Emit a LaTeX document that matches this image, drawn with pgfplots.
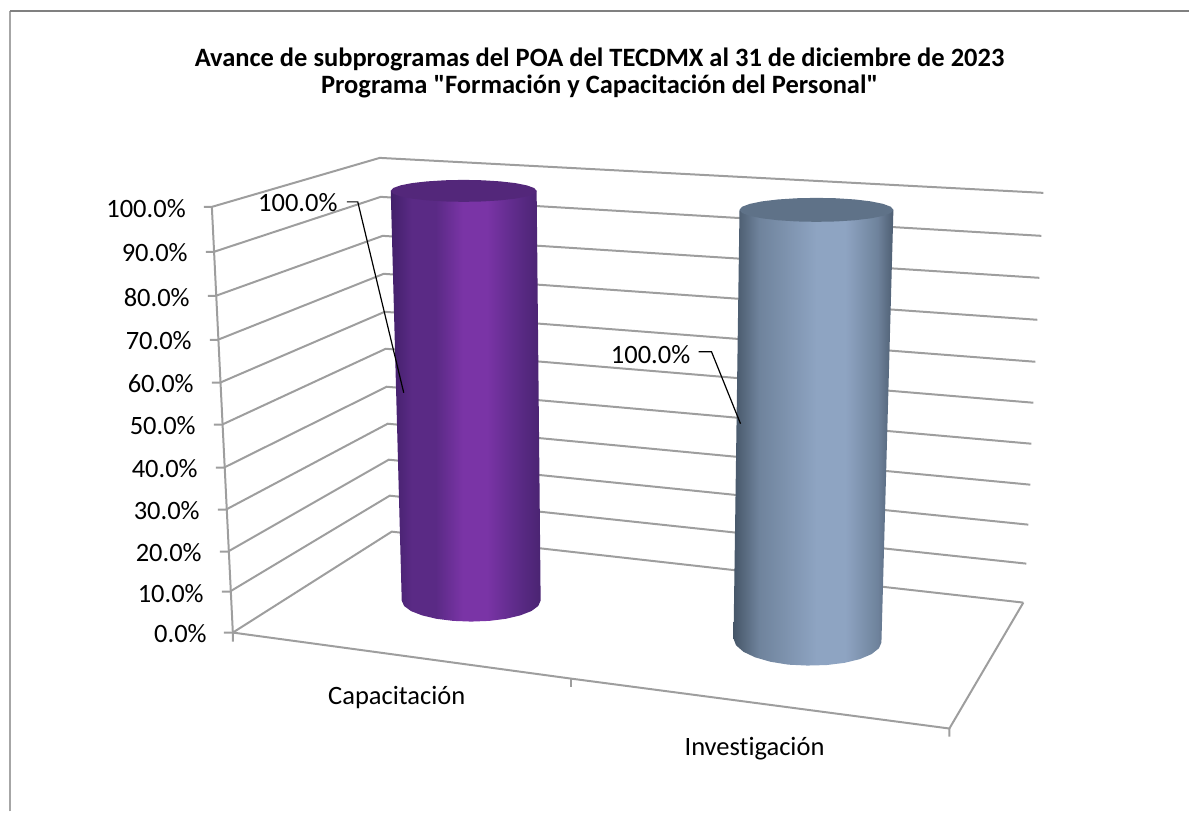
\documentclass[border=0pt]{standalone}
\usepackage{pgfplots}
\pgfplotsset{compat=1.18}
\usepackage{fontspec}
\setmainfont{Carlito}[Ligatures={TeXOff,NoCommon}]
\definecolor{gridc}{HTML}{9E9E9E}
\definecolor{pA0}{HTML}{42206A}
\definecolor{pA1}{HTML}{5A2A85}
\definecolor{pA2}{HTML}{7A34A6}
\definecolor{pA3}{HTML}{4A2472}
\definecolor{capA}{HTML}{53277A}
\definecolor{bA0}{HTML}{465668}
\definecolor{bA1}{HTML}{6F839C}
\definecolor{bA2}{HTML}{8EA4C2}
\definecolor{bA3}{HTML}{4E5E72}
\definecolor{capB}{HTML}{5F7288}
\pgfdeclarehorizontalshading{cylA}{100bp}{color(0bp)=(pA0); color(25bp)=(pA0); color(32bp)=(pA1); color(40bp)=(pA1); color(49bp)=(pA2); color(57bp)=(pA2); color(68bp)=(pA1); color(75bp)=(pA3); color(100bp)=(pA3)}
\pgfdeclarehorizontalshading{cylB}{100bp}{color(0bp)=(bA0); color(25bp)=(bA0); color(33bp)=(bA1); color(51bp)=(bA2); color(60bp)=(bA2); color(70bp)=(bA1); color(75bp)=(bA3); color(100bp)=(bA3)}
\newcommand{\lab}[3]{\node[anchor=#1,inner sep=0pt,text=black,font=\fontsize{26.5}{30}\selectfont] at (axis cs:#2) {#3};}
\begin{document}
\begin{tikzpicture}[x=1pt,y=1pt]
\path (0pt,0pt) rectangle (1190pt,812pt);
\begin{axis}[
  scale only axis,width=1190pt,height=812pt,
  xmin=0,xmax=1190,ymin=0,ymax=812,y dir=reverse,
  axis lines=none,clip=false]
% frame
\addplot[draw=black!35,line width=2pt] coordinates {(10,812) (10,11)};
\addplot[draw=black!50,line width=1.6pt] coordinates {(10,11) (1190,11)};
% walls: left-wall lines and back-wall lines
\addplot[draw=gridc,line width=2pt] coordinates {(204,207) (212,207) (380,158) (1044,193)};
\addplot[draw=gridc,line width=2pt] coordinates {(206,252) (214,252) (381,197) (1042,236)};
\addplot[draw=gridc,line width=2pt] coordinates {(208,296) (216,296) (383,236) (1040,278)};
\addplot[draw=gridc,line width=2pt] coordinates {(210,340) (218,340) (384,274) (1038,320)};
\addplot[draw=gridc,line width=2pt] coordinates {(212,383) (220,383) (385,312) (1036,362)};
\addplot[draw=gridc,line width=2pt] coordinates {(214,425) (222,425) (386,349) (1034,403)};
\addplot[draw=gridc,line width=2pt] coordinates {(216,468) (224,468) (387,387) (1032,444)};
\addplot[draw=gridc,line width=2pt] coordinates {(218,510) (226,510) (388,424) (1031,485)};
\addplot[draw=gridc,line width=2pt] coordinates {(220,552) (228,552) (389,460) (1029,525)};
\addplot[draw=gridc,line width=2pt] coordinates {(222,592) (230,592) (390,496) (1027,564)};
\addplot[draw=gridc,line width=2pt] coordinates {(224,633) (233,633) (392,532) (1024,603)};
% vertical axis and floor
\addplot[draw=gridc,line width=2pt] coordinates {(212,207) (233,633) (233,642)};
\addplot[draw=gridc,line width=2pt] coordinates {(233,633) (571,679) (950,729) (950,737)};
\addplot[draw=gridc,line width=2pt] coordinates {(571,679) (571,687)};
\addplot[draw=gridc,line width=2pt] coordinates {(950,729) (1024,603)};
% cylinder 1 (100.0 %)
\addplot[shading=cylA,draw=none] coordinates {(391,191) (402,601) (404.4,606.4) (411.3,611.5) (422.4,615.8) (436.75,619.2) (453.5,621.3) (471.5,622) (489.5,621.3) (506.25,619.2) (520.6,615.8) (531.7,611.5) (538.6,606.4) (541,601) (537,191)} --cycle;
\addplot[fill=capA,draw=none] coordinates {(391,191) (393.5,193.85) (400.8,196.5) (412.4,198.8) (427.5,200.5) (445.1,201.6) (464,202) (482.9,201.6) (500.5,200.5) (515.6,198.8) (527.2,196.5) (534.5,193.85) (537,191) (534.5,188.15) (527.2,185.5) (515.6,183.2) (500.5,181.5) (482.9,180.4) (464,180) (445.1,180.4) (427.5,181.5) (412.4,183.2) (400.8,185.5) (393.5,188.15)} --cycle;
% cylinder 2 (100.0 %)
\addplot[shading=cylB,draw=none] coordinates {(740,210) (734,639) (736.5,645.7) (743.9,652.2) (755.7,657.8) (771,662.2) (788.8,665.1) (808,666) (827.2,665.5) (845,663.3) (860.3,659.6) (872.1,654.6) (879.5,648.7) (882,643) (894,210)} --cycle;
\addplot[fill=capB,draw=none] coordinates {(740,210) (742.6,213.1) (750.3,216) (762.6,218.5) (778.5,220.4) (797.1,221.6) (817,222) (836.9,221.6) (855.5,220.4) (871.4,218.5) (883.7,216) (891.4,213.1) (894,210) (891.4,206.9) (883.7,204) (871.4,201.5) (855.5,199.6) (836.9,198.4) (817,198) (797.1,198.4) (778.5,199.6) (762.6,201.5) (750.3,204) (742.6,206.9)} --cycle;
% leader lines
\addplot[draw=black,line width=1.2pt] coordinates {(347,202) (358,202) (404,393)};
\addplot[draw=black,line width=1.2pt] coordinates {(699,352) (712,352) (741,424)};
% labels
\lab{east}{186,209}{100.0\%}
\lab{east}{188,253}{90.0\%}
\lab{east}{190,298}{80.0\%}
\lab{east}{192,341}{70.0\%}
\lab{east}{194,384}{60.0\%}
\lab{east}{196,426}{50.0\%}
\lab{east}{198,469}{40.0\%}
\lab{east}{200,511}{30.0\%}
\lab{east}{202,553}{20.0\%}
\lab{east}{204,594}{10.0\%}
\lab{east}{207,634}{0.0\%}
\lab{center}{298,203}{100.0\%}
\lab{center}{651,355}{100.0\%}
\lab{center}{397,698}{Capacitación}
\lab{center}{755,749}{Investigación}
\node[align=center,inner sep=0pt,font=\fontsize{26.5}{28}\selectfont\bfseries] at (axis cs:600,73) {Avance de subprogramas del POA del TECDMX al 31 de diciembre de 2023\\Programa "Formación y Capacitación del Personal"};
\end{axis}
\end{tikzpicture}
\end{document}
